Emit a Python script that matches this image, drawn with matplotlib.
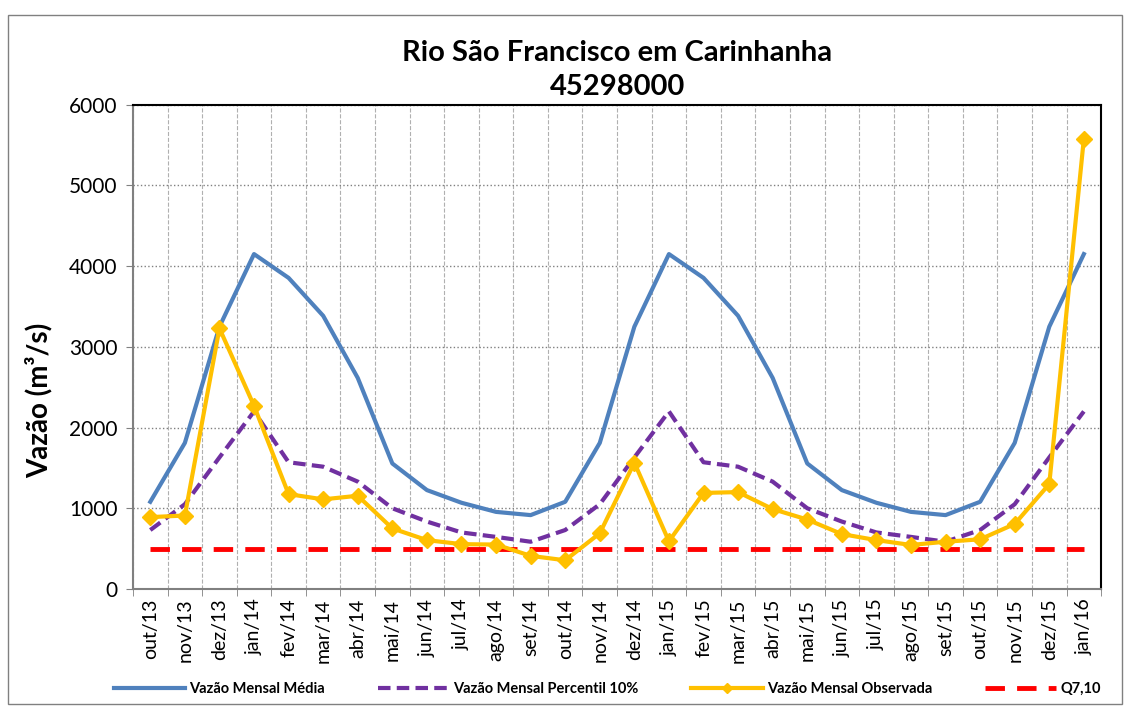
import matplotlib.pyplot as plt
from matplotlib.ticker import FixedLocator
from matplotlib.patches import Rectangle

plt.rcParams['font.family'] = ['Lato', 'DejaVu Sans']

meses = ['out/13', 'nov/13', 'dez/13', 'jan/14', 'fev/14', 'mar/14', 'abr/14',
         'mai/14', 'jun/14', 'jul/14', 'ago/14', 'set/14', 'out/14', 'nov/14',
         'dez/14', 'jan/15', 'fev/15', 'mar/15', 'abr/15', 'mai/15', 'jun/15',
         'jul/15', 'ago/15', 'set/15', 'out/15', 'nov/15', 'dez/15', 'jan/16']

media = [1080, 1810, 3250, 4150, 3855, 3385, 2615, 1555, 1225, 1068, 955, 915,
         1080, 1810, 3250, 4150, 3855, 3385, 2615, 1555, 1225, 1068, 955, 915,
         1080, 1810, 3250, 4150]

perc10 = [730, 1050, 1630, 2200, 1570, 1515, 1330, 1000, 835, 700, 645, 585,
          730, 1050, 1630, 2200, 1570, 1515, 1330, 1000, 835, 700, 645, 585,
          730, 1050, 1630, 2200]

observada = [890, 910, 3230, 2270, 1175, 1110, 1155, 750, 605, 555, 550, 410,
             355, 690, 1565, 590, 1190, 1200, 990, 860, 680, 605, 545, 585,
             615, 805, 1300, 5580]

q710 = [490] * len(meses)

x = list(range(len(meses)))

fig = plt.figure(figsize=(11.31, 7.13), dpi=100)
ax = fig.add_axes([0.1176, 0.174, 0.856, 0.679])

ax.plot(x, media, color='#4F81BD', lw=3, label='Vazão Mensal Média', zorder=3)
ax.plot(x, perc10, color='#7030A0', lw=3, ls=(0, (3, 1.5)), label='Vazão Mensal Percentil 10%', zorder=3)
ax.plot(x, observada, color='#FFC000', lw=3, marker='D', ms=8, label='Vazão Mensal Observada', zorder=4)
ax.plot(x, q710, color='#FF0000', lw=3.5, ls=(0, (4, 2.5)), label='Q7,10', zorder=3)

ax.set_xlim(-0.5, len(meses) - 0.5)
ax.set_ylim(0, 6000)
ax.set_yticks(range(0, 6001, 1000))
ax.tick_params(axis='y', labelsize=15, length=5, color='#808080', pad=6)

ax.set_xticks(x)
ax.set_xticklabels(meses, rotation=90, fontsize=14)
ax.xaxis.set_minor_locator(FixedLocator([i - 0.5 for i in range(len(meses) + 1)]))
ax.tick_params(axis='x', which='major', length=0, pad=7)
ax.tick_params(axis='x', which='minor', length=5, color='#808080')

ax.grid(axis='y', which='major', color='#808080', ls=':', lw=1)
ax.grid(axis='x', which='minor', color='#b0b0b0', ls='--', lw=0.8)
ax.set_axisbelow(True)

for s in ['left', 'bottom']:
    ax.spines[s].set_color('#808080')
for s in ax.spines:
    ax.spines[s].set_linewidth(1.5)

ax.set_ylabel('Vazão (m³/s)', fontsize=20, fontweight='bold')
ax.yaxis.set_label_coords(-0.083, 0.39)
ax.set_title('Rio São Francisco em Carinhanha\n45298000', fontsize=21, fontweight='bold',
             pad=7, linespacing=1.4)

leg = fig.legend(loc='center', bbox_to_anchor=(0.537, 0.034), ncol=4, frameon=False,
                 prop={'size': 10.5, 'weight': 'bold'}, handlelength=4.9,
                 handletextpad=0.3, columnspacing=3.6)
leg.legend_handles[2].set_markersize(5)

fig.patches.append(Rectangle((0.007, 0.012), 0.985, 0.967, transform=fig.transFigure,
                             fill=False, edgecolor='#808080', lw=1))

fig.savefig('out.png', dpi=100)
